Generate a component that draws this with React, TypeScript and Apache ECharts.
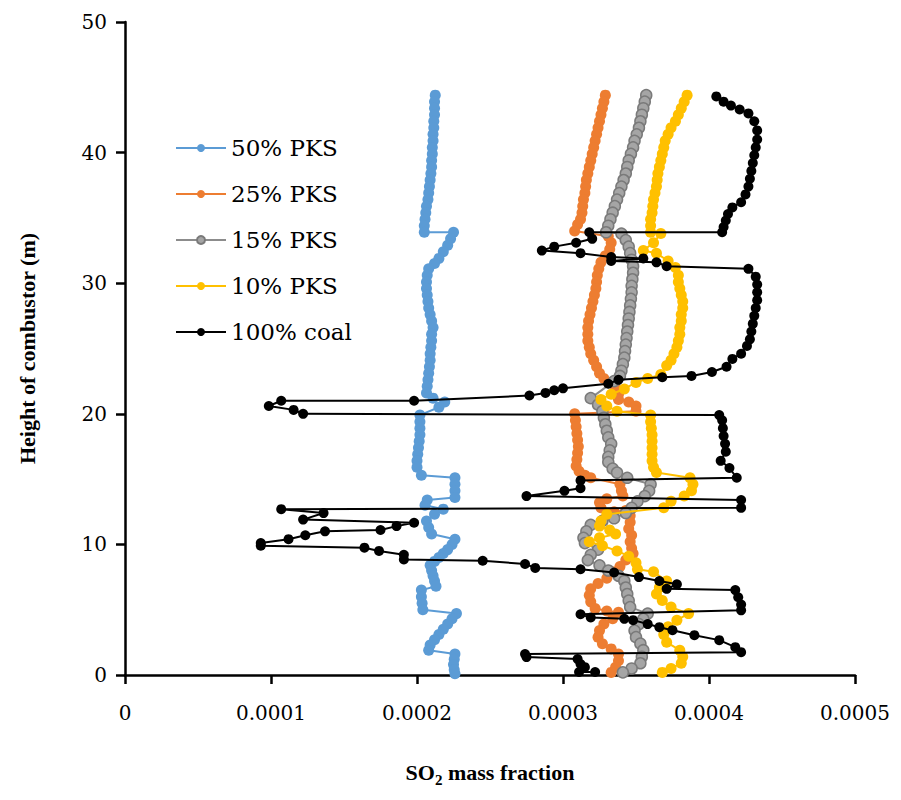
import React, { useEffect, useRef } from "react";
import * as echarts from "echarts";

const FONT = "'DejaVu Serif', 'Liberation Serif', serif";
const TITLE_FONT = "'Liberation Serif', 'DejaVu Serif', serif";

const seriesNames = ["50% PKS", "25% PKS", "15% PKS", "10% PKS", "100% coal"];
const xTicks = [0, 0.0001, 0.0002, 0.0003, 0.0004, 0.0005];
const yTicks = [0, 10, 20, 30, 40, 50];

const pks50: [number, number][] = [
  [2.125e-4,44.4],[2.12e-4,43.9],[2.12e-4,43.4],[2.12e-4,42.9],[2.115e-4,42.4],[2.115e-4,41.9],[2.11e-4,41.4],[2.11e-4,40.9],[2.105e-4,40.4],[2.105e-4,39.9],[2.1e-4,39.4],[2.1e-4,38.9],[2.095e-4,38.4],[2.09e-4,37.9],[2.085e-4,37.4],[2.08e-4,36.9],[2.075e-4,36.4],[2.065e-4,35.9],[2.06e-4,35.4],[2.055e-4,34.9],[2.05e-4,34.4],[2.05e-4,33.9],
  [2.25e-4,33.9],[2.23e-4,33.4],[2.21e-4,32.9],[2.18e-4,32.4],[2.15e-4,31.9],[2.12e-4,31.5],[2.08e-4,31.1],[2.07e-4,30.6],[2.065e-4,30.1],[2.065e-4,29.6],[2.07e-4,29.1],[2.075e-4,28.6],[2.08e-4,28.1],[2.09e-4,27.6],[2.1e-4,27.1],[2.11e-4,26.6],[2.1e-4,26.1],[2.1e-4,25.6],[2.095e-4,25.1],[2.09e-4,24.6],[2.09e-4,24.1],[2.085e-4,23.6],[2.08e-4,23.1],[2.075e-4,22.6],[2.07e-4,22.1],[2.065e-4,21.6],[2.11e-4,21.2],[2.19e-4,20.9],[2.15e-4,20.5],
  [2.02e-4,19.9],[2.02e-4,19.4],[2.02e-4,18.9],[2.02e-4,18.4],[2.015e-4,17.9],[2.01e-4,17.4],[2.005e-4,16.9],[2.0e-4,16.4],[2.0e-4,15.9],[2.03e-4,15.3],
  [2.26e-4,15.1],[2.26e-4,14.6],[2.26e-4,14.1],[2.26e-4,13.6],[2.07e-4,13.4],[2.055e-4,13.0],[2.18e-4,12.7],[2.12e-4,12.3],[2.065e-4,11.8],[2.08e-4,11.3],[2.1e-4,10.8],
  [2.26e-4,10.4],[2.24e-4,10.0],[2.21e-4,9.6],[2.18e-4,9.3],[2.15e-4,9.0],[2.12e-4,8.7],[2.09e-4,8.4],[2.1e-4,8.0],[2.11e-4,7.6],[2.12e-4,7.2],[2.13e-4,6.8],[2.03e-4,6.5],[2.03e-4,6.0],[2.035e-4,5.5],[2.04e-4,5.0],
  [2.27e-4,4.7],[2.24e-4,4.3],[2.21e-4,3.9],[2.18e-4,3.5],[2.15e-4,3.1],[2.12e-4,2.7],[2.09e-4,2.3],[2.08e-4,1.9],[2.26e-4,1.6],[2.255e-4,1.2],[2.25e-4,0.8],[2.255e-4,0.4],[2.26e-4,0.1],
];

const pks25: [number, number][] = [
  [3.29e-4,44.4],[3.28e-4,43.9],[3.27e-4,43.4],[3.26e-4,42.9],[3.25e-4,42.4],[3.24e-4,41.9],[3.23e-4,41.4],[3.22e-4,40.9],[3.21e-4,40.4],[3.2e-4,39.9],[3.19e-4,39.4],[3.18e-4,38.9],[3.17e-4,38.4],[3.16e-4,37.9],[3.155e-4,37.4],[3.15e-4,36.9],[3.14e-4,36.4],[3.135e-4,35.9],[3.13e-4,35.4],[3.12e-4,34.9],[3.1e-4,34.5],[3.08e-4,34.0],
  [3.31e-4,33.6],[3.33e-4,33.1],[3.32e-4,32.6],[3.29e-4,32.1],[3.26e-4,31.6],[3.245e-4,31.1],[3.235e-4,30.6],[3.23e-4,30.1],[3.225e-4,29.6],[3.215e-4,29.1],[3.205e-4,28.6],[3.195e-4,28.1],[3.185e-4,27.6],[3.175e-4,27.1],[3.17e-4,26.6],[3.17e-4,26.1],[3.17e-4,25.6],[3.18e-4,25.1],[3.19e-4,24.6],[3.21e-4,24.1],[3.23e-4,23.6],[3.25e-4,23.1],[3.28e-4,22.7],[3.31e-4,22.4],[3.36e-4,22.0],[3.38e-4,21.5],[3.38e-4,21.1],[3.45e-4,20.9],[3.5e-4,20.6],[3.5e-4,20.2],
  [3.08e-4,20.0],[3.085e-4,19.5],[3.09e-4,19.0],[3.095e-4,18.5],[3.1e-4,18.0],[3.105e-4,17.5],[3.1e-4,17.0],[3.095e-4,16.5],[3.09e-4,16.0],[3.11e-4,15.6],[3.15e-4,15.3],[3.19e-4,15.1],
  [3.39e-4,14.6],[3.4e-4,14.1],[3.41e-4,13.7],[3.3e-4,13.5],[3.25e-4,13.2],[3.26e-4,12.8],[3.35e-4,12.5],[3.43e-4,12.6],[3.46e-4,12.2],[3.46e-4,11.7],[3.45e-4,11.2],[3.47e-4,10.7],[3.46e-4,10.2],[3.47e-4,9.7],[3.48e-4,9.3],[3.43e-4,8.8],[3.39e-4,8.3],[3.34e-4,7.9],[3.3e-4,7.4],[3.24e-4,7.0],[3.19e-4,6.6],[3.18e-4,6.1],[3.19e-4,5.6],[3.22e-4,5.1],[3.3e-4,4.9],[3.38e-4,4.8],[3.34e-4,4.3],[3.28e-4,3.9],[3.25e-4,3.4],[3.24e-4,2.9],[3.27e-4,2.4],[3.33e-4,2.0],[3.38e-4,1.6],[3.38e-4,1.1],[3.36e-4,0.6],[3.33e-4,0.2],
];

const pks15: [number, number][] = [
  [3.57e-4,44.4],[3.56e-4,43.9],[3.55e-4,43.4],[3.54e-4,42.9],[3.53e-4,42.4],[3.52e-4,41.9],[3.505e-4,41.4],[3.49e-4,40.9],[3.48e-4,40.4],[3.465e-4,39.9],[3.45e-4,39.4],[3.44e-4,38.9],[3.43e-4,38.4],[3.415e-4,37.9],[3.4e-4,37.4],[3.385e-4,36.9],[3.37e-4,36.4],[3.355e-4,35.9],[3.34e-4,35.4],[3.325e-4,34.9],[3.31e-4,34.4],[3.295e-4,33.9],
  [3.4e-4,33.8],[3.43e-4,33.3],[3.45e-4,32.8],[3.46e-4,32.3],[3.47e-4,31.8],[3.48e-4,31.3],[3.48e-4,30.8],[3.475e-4,30.3],[3.47e-4,29.8],[3.47e-4,29.3],[3.465e-4,28.8],[3.46e-4,28.3],[3.455e-4,27.8],[3.45e-4,27.3],[3.445e-4,26.8],[3.44e-4,26.3],[3.435e-4,25.8],[3.43e-4,25.3],[3.425e-4,24.8],[3.42e-4,24.3],[3.41e-4,23.8],[3.4e-4,23.3],[3.39e-4,22.9],[3.35e-4,22.5],
  [3.19e-4,21.2],[3.24e-4,20.7],[3.27e-4,20.2],[3.28e-4,19.7],[3.29e-4,19.2],[3.3e-4,18.7],[3.31e-4,18.2],[3.33e-4,17.7],[3.32e-4,17.2],[3.31e-4,16.7],[3.31e-4,16.3],[3.34e-4,15.8],[3.37e-4,15.5],[3.44e-4,15.1],
  [3.6e-4,14.6],[3.59e-4,14.1],[3.56e-4,13.7],[3.51e-4,13.3],[3.47e-4,12.8],[3.43e-4,12.4],[3.35e-4,12.0],[3.27e-4,11.8],[3.19e-4,11.5],[3.16e-4,11.0],[3.14e-4,10.5],[3.15e-4,10.1],[3.24e-4,9.6],[3.19e-4,9.2],[3.17e-4,8.8],[3.25e-4,8.4],[3.31e-4,8.0],[3.38e-4,7.6],[3.42e-4,7.2],[3.43e-4,6.7],[3.44e-4,6.2],[3.45e-4,5.7],[3.46e-4,5.2],[3.58e-4,4.7],[3.55e-4,4.3],[3.52e-4,3.9],[3.49e-4,3.4],[3.5e-4,2.9],[3.53e-4,2.4],[3.55e-4,1.9],[3.54e-4,1.4],[3.53e-4,0.9],[3.47e-4,0.5],[3.41e-4,0.2],
];

const pks10: [number, number][] = [
  [3.85e-4,44.4],[3.83e-4,43.9],[3.81e-4,43.4],[3.79e-4,42.9],[3.77e-4,42.4],[3.74e-4,41.9],[3.72e-4,41.4],[3.7e-4,40.9],[3.69e-4,40.4],[3.68e-4,39.9],[3.67e-4,39.4],[3.66e-4,38.9],[3.65e-4,38.4],[3.645e-4,37.9],[3.64e-4,37.4],[3.63e-4,36.9],[3.62e-4,36.4],[3.615e-4,35.9],[3.61e-4,35.4],[3.6e-4,34.9],[3.6e-4,34.4],[3.6e-4,33.9],[3.67e-4,33.8],[3.62e-4,33.1],[3.55e-4,32.5],[3.64e-4,32.3],[3.72e-4,31.7],[3.77e-4,31.2],[3.79e-4,30.6],[3.79e-4,30.1],[3.8e-4,29.6],[3.81e-4,29.1],[3.82e-4,28.6],[3.82e-4,28.1],[3.81e-4,27.6],[3.81e-4,27.1],[3.8e-4,26.6],[3.8e-4,26.1],[3.79e-4,25.6],[3.78e-4,25.1],[3.76e-4,24.6],[3.74e-4,24.1],[3.71e-4,23.7],[3.67e-4,23.0],[3.58e-4,22.7],[3.5e-4,22.4],[3.42e-4,21.9],[3.33e-4,21.5],[3.26e-4,21.1],[3.3e-4,20.6],[3.37e-4,20.2],
  [3.6e-4,19.9],[3.6e-4,19.4],[3.605e-4,18.9],[3.61e-4,18.4],[3.61e-4,17.9],[3.61e-4,17.4],[3.61e-4,16.9],[3.61e-4,16.4],[3.62e-4,15.9],[3.64e-4,15.5],[3.87e-4,15.1],[3.89e-4,14.6],[3.88e-4,14.1],[3.83e-4,13.7],[3.74e-4,13.3],[3.69e-4,12.8],
  [3.3e-4,12.3],[3.26e-4,11.8],[3.25e-4,11.4],[3.32e-4,11.1],[3.36e-4,10.8],[3.25e-4,10.5],[3.18e-4,10.2],[3.27e-4,9.9],[3.37e-4,9.5],[3.45e-4,9.1],[3.5e-4,8.6],[3.51e-4,8.1],[3.62e-4,7.9],[3.71e-4,7.2],[3.66e-4,6.7],[3.64e-4,6.2],[3.68e-4,5.7],[3.74e-4,5.2],[3.86e-4,4.7],[3.78e-4,4.2],[3.72e-4,3.7],[3.69e-4,3.1],[3.71e-4,2.5],[3.8e-4,1.9],[3.82e-4,1.4],[3.81e-4,0.9],[3.74e-4,0.5],[3.68e-4,0.2],
];

const coal100: [number, number][] = [
  [4.05e-4,44.3],[4.1e-4,43.9],[4.15e-4,43.6],[4.21e-4,43.3],[4.27e-4,43.0],[4.31e-4,42.4],[4.33e-4,41.7],[4.33e-4,41.0],[4.32e-4,40.4],[4.31e-4,39.8],[4.3e-4,39.2],[4.29e-4,38.6],[4.28e-4,38.0],[4.27e-4,37.4],[4.25e-4,36.8],[4.22e-4,36.2],[4.16e-4,35.8],[4.13e-4,35.3],[4.115e-4,34.8],[4.1e-4,34.3],[4.09e-4,33.9],
  [3.18e-4,33.9],[3.2e-4,33.4],[3.09e-4,33.1],[2.94e-4,32.8],[2.855e-4,32.5],[3.12e-4,32.3],[3.33e-4,32.0],[3.55e-4,31.9],[3.33e-4,31.7],[3.64e-4,31.6],[3.71e-4,31.3],
  [4.27e-4,31.1],[4.32e-4,30.5],[4.33e-4,29.9],[4.33e-4,29.3],[4.33e-4,28.7],[4.32e-4,28.1],[4.31e-4,27.5],[4.3e-4,26.9],[4.29e-4,26.3],[4.28e-4,25.7],[4.26e-4,25.2],[4.22e-4,24.6],[4.16e-4,24.2],[4.12e-4,23.6],[4.02e-4,23.2],[3.88e-4,22.9],[3.68e-4,22.8],[3.38e-4,22.6],[3.31e-4,22.3],[3.0e-4,21.95],[2.94e-4,21.8],[2.88e-4,21.6],[2.77e-4,21.4],[1.98e-4,21.0],
  [1.07e-4,21.0],[0.985e-4,20.6],[1.155e-4,20.3],[1.22e-4,20.0],
  [4.07e-4,19.9],[4.09e-4,19.5],[4.095e-4,18.9],[4.1e-4,18.3],[4.11e-4,17.7],[4.115e-4,17.1],[4.08e-4,16.4],[4.14e-4,15.85],[4.19e-4,15.1],
  [3.12e-4,14.9],[3.12e-4,14.3],[3.01e-4,14.1],[2.75e-4,13.7],
  [4.22e-4,13.4],[4.22e-4,12.8],
  [1.07e-4,12.7],[1.36e-4,12.4],[1.22e-4,11.9],[1.98e-4,11.66],[1.86e-4,11.4],[1.75e-4,11.1],[1.37e-4,11.0],[1.235e-4,10.7],[1.12e-4,10.4],[0.93e-4,10.1],[0.93e-4,9.9],
  [1.64e-4,9.75],[1.74e-4,9.5],[1.91e-4,9.2],[1.91e-4,8.85],[2.45e-4,8.75],[2.74e-4,8.5],[2.81e-4,8.2],[3.12e-4,8.1],[3.35e-4,7.85],[3.52e-4,7.5],[3.66e-4,7.2],[3.78e-4,6.95],[3.71e-4,6.6],
  [4.18e-4,6.5],[4.2e-4,5.95],[4.22e-4,5.4],[4.22e-4,4.95],
  [3.12e-4,4.65],[3.19e-4,4.4],[3.42e-4,4.3],[3.48e-4,4.2],[3.58e-4,3.9],[3.66e-4,3.66],[3.75e-4,3.43],[3.9e-4,3.05],[4.07e-4,2.67],[4.18e-4,2.13],[4.22e-4,1.75],
  [2.74e-4,1.6],[2.75e-4,1.37],[3.1e-4,1.22],[3.12e-4,0.84],[3.15e-4,0.6],[3.11e-4,0.23],[3.22e-4,0.23],
];

const seriesData = [pks50, pks25, pks15, pks10, coal100];
const lineColors = ["#5B9BD5", "#ED7D31", "#8C8C8C", "#FFC000", "#000000"];
const markerFill = ["#5B9BD5", "#ED7D31", "#A5A5A5", "#FFC000", "#000000"];
const markerBorder = ["#5B9BD5", "#ED7D31", "#7A7A7A", "#FFC000", "#000000"];

export default function App() {
  const ref = useRef<HTMLDivElement>(null);
  useEffect(() => {
    if (!ref.current) return;
    const chart = echarts.init(ref.current, undefined, { renderer: "svg" });
    const axisLabelStyle = { color: "#000", fontFamily: FONT, fontSize: 20 };
    chart.setOption({
      animation: false,
      backgroundColor: "#fff",
      grid: { left: 109, right: 35, top: 14, bottom: 111, containLabel: false },
      legend: {
        orient: "vertical",
        left: 162,
        top: 123,
        itemWidth: 50,
        itemHeight: 10,
        itemGap: 22,
        data: seriesNames,
        textStyle: { color: "#000", fontFamily: FONT, fontSize: 23, lineHeight: 24 },
      },
      xAxis: {
        type: "value",
        min: xTicks[0],
        max: xTicks[xTicks.length - 1],
        interval: xTicks[1] - xTicks[0],
        splitLine: { show: false },
        axisLine: { lineStyle: { color: "#000", width: 2.5 } },
        axisTick: { show: true, length: 9, lineStyle: { color: "#000", width: 2.5 } },
        axisLabel: {
          ...axisLabelStyle,
          margin: 28,
          formatter: (v: number) => (v === 0 ? "0" : v.toFixed(4)),
        },
        name: "{n|SO}{s|2}{n| mass fraction}",
        nameLocation: "middle",
        nameGap: 82,
        nameTextStyle: {
          rich: {
            n: { fontFamily: TITLE_FONT, fontSize: 22, fontWeight: "bold", color: "#000", lineHeight: 30 },
            s: { fontFamily: TITLE_FONT, fontSize: 15, fontWeight: "bold", color: "#000", lineHeight: 14, verticalAlign: "bottom" },
          },
        },
      },
      yAxis: {
        type: "value",
        min: yTicks[0],
        max: yTicks[yTicks.length - 1],
        interval: yTicks[1] - yTicks[0],
        splitLine: { show: false },
        axisLine: { lineStyle: { color: "#000", width: 2.5 } },
        axisTick: { show: true, length: 9, lineStyle: { color: "#000", width: 2.5 } },
        axisLabel: { ...axisLabelStyle, margin: 18 },
        name: "Height of combustor (m)",
        nameLocation: "middle",
        nameGap: 87,
        nameRotate: 90,
        nameTextStyle: { fontFamily: TITLE_FONT, fontSize: 22, fontWeight: "bold", color: "#000" },
      },
      series: seriesData.map((d, i) => ({
        name: seriesNames[i],
        type: "line",
        data: d,
        symbol: "circle",
        symbolSize: i === 4 ? 10 : 11,
        showSymbol: true,
        showAllSymbol: true,
        lineStyle: { color: lineColors[i], width: 2 },
        itemStyle: {
          color: markerFill[i],
          borderColor: markerBorder[i],
          borderWidth: i === 2 ? 1.5 : 0,
        },
        z: 2 + i,
      })),
    });
    return () => chart.dispose();
  }, []);
  return <div ref={ref} style={{ width: 885, height: 784 }} />;
}
